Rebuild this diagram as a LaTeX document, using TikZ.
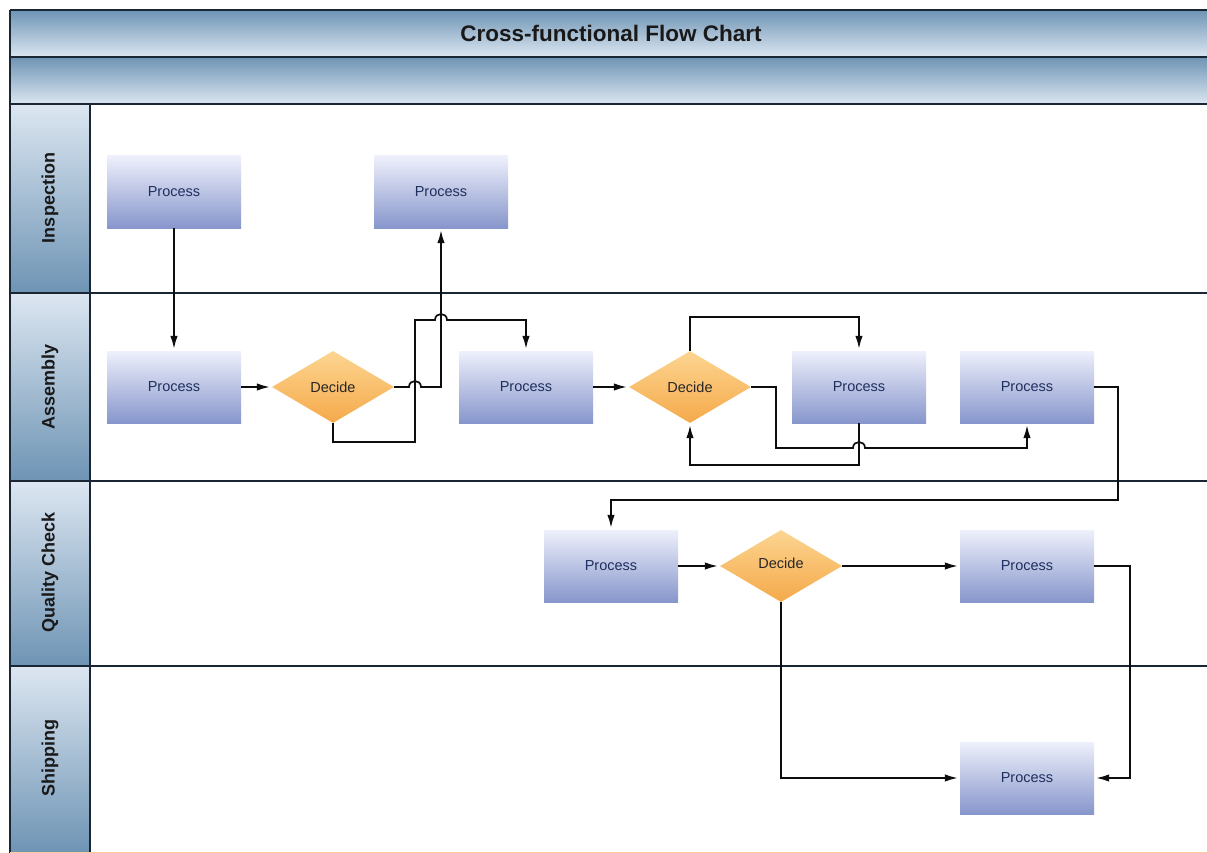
\documentclass[tikz,border=0pt]{standalone}
\usepackage{fontspec}
\setmainfont{Liberation Sans}
\usetikzlibrary{shapes.geometric,arrows.meta}
\definecolor{banddark}{HTML}{6E94B4}
\definecolor{bandlight}{HTML}{DCE6F1}
\definecolor{proctop}{HTML}{EEF0FB}
\definecolor{procbot}{HTML}{8796CC}
\definecolor{dectop}{HTML}{FCD591}
\definecolor{decbot}{HTML}{F5A94A}
\definecolor{framec}{HTML}{1A2633}
\definecolor{proctext}{HTML}{1F2F5F}
\tikzset{
  frameline/.style={draw=framec, line width=1.4pt},
  procbox/.style={rectangle, minimum width=134pt, minimum height=72pt, inner sep=0pt,
    top color=proctop, bottom color=procbot, text=proctext, font=\fontsize{14.5}{16}\selectfont},
  decbox/.style={diamond, minimum width=122pt, minimum height=72pt, inner sep=0pt, aspect=1.7,
    top color=dectop, bottom color=decbot, text=black!85, font=\fontsize{14.5}{16}\selectfont},
  lanelabel/.style={rotate=90, font=\bfseries\fontsize{18}{20}\selectfont, text=black!90},
  titletext/.style={font=\bfseries\fontsize{22.5}{25}\selectfont, text=black!90},
  conn/.style={draw=black!95, line width=1.7pt},
  arr/.style={conn, -{Latex[length=13pt,width=7.5pt]}, shorten >=2pt},
}
\begin{document}
\begin{tikzpicture}[x=1pt,y=-1pt]
\useasboundingbox (0,0) rectangle (1207,853);
\fill[white] (0,0) rectangle (1207,853);
% bands
\shade[top color=banddark, bottom color=bandlight] (10,10) rectangle (1207,57);
\shade[top color=banddark, bottom color=bandlight] (10,57) rectangle (1207,104);
% lane label columns
\shade[top color=bandlight, bottom color=banddark] (10,104) rectangle (90,293);
\shade[top color=bandlight, bottom color=banddark] (10,293) rectangle (90,481);
\shade[top color=bandlight, bottom color=banddark] (10,481) rectangle (90,666);
\shade[top color=bandlight, bottom color=banddark] (10,666) rectangle (90,853);
% frame lines
\foreach \yy in {10,57,104,293,481,666} \draw[frameline] (10,\yy) -- (1207,\yy);
\draw[frameline] (10,10) -- (10,853);
\draw[frameline] (90,104) -- (90,853);
\draw[draw=orange!40, line width=1pt] (10,852) -- (1207,852);
% texts
\node[titletext] (title) at (611,33) {Cross-functional Flow Chart};
\node[lanelabel] (lane1) at (50,198) {Inspection};
\node[lanelabel] (lane2) at (50,387) {Assembly};
\node[lanelabel] (lane3) at (50,572) {Quality Check};
\node[lanelabel] (lane4) at (50,758) {Shipping};
% nodes
\node[procbox] (p1) at (174,192) {Process};
\node[procbox] (p2) at (441,192) {Process};
\node[procbox] (p3) at (174,387) {Process};
\node[decbox]  (d1) at (333,387) {Decide};
\node[procbox] (p4) at (526,387) {Process};
\node[decbox]  (d2) at (690,387) {Decide};
\node[procbox] (p5) at (859,387) {Process};
\node[procbox] (p6) at (1027,387) {Process};
\node[procbox] (p7) at (611,566) {Process};
\node[decbox]  (d3) at (781,566) {\raisebox{5pt}{Decide}};
\node[procbox] (p8) at (1027,566) {Process};
\node[procbox] (p9) at (1027,778) {Process};
% connectors
\draw[arr] (p1.south) -- (p3.north);
\draw[arr] (p3.east) -- (d1.west);
\draw[arr] (d1.east) -- (409,387) .. controls (409,379) and (421,379) .. (421,387) -| (p2.south);
\draw[arr] (d1.south) |- (415,442) -- (415,320) -- (435,320) .. controls (435,312) and (447,312) .. (447,320) -| (p4.north);
\draw[arr] (p4.east) -- (d2.west);
\draw[arr] (d2.north) |- (859,317) -- (p5.north);
\draw[arr] (d2.east) -- (776,387) |- (853,448) .. controls (853,440) and (865,440) .. (865,448) -| (p6.south);
\draw[arr] (p5.south) |- (690,465) -- (d2.south);
\draw[arr] (p6.east) -- (1118,387) |- (611,500) -- (p7.north);
\draw[arr] (p7.east) -- (d3.west);
\draw[arr] (d3.east) -- (p8.west);
\draw[arr] (d3.south) |- (p9.west);
\draw[arr] (p8.east) -- (1130,566) |- (p9.east);
\end{tikzpicture}
\end{document}
